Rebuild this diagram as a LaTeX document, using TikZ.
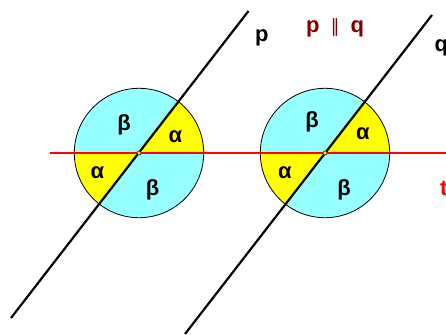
\documentclass[tikz,border=0pt]{standalone}
\usepackage{fontspec}
\setmainfont{Liberation Sans}
\newfontfamily\symfont{DejaVu Sans}
\definecolor{cyanfill}{RGB}{150,255,255}
\definecolor{yel}{RGB}{255,255,0}
\definecolor{darkred}{RGB}{128,0,0}
\begin{document}
\begin{tikzpicture}[x=1pt,y=-1pt,
  lbl/.style={font=\bfseries\fontsize{22}{22}\selectfont, inner sep=0pt},
  greek/.style={font=\bfseries\fontsize{22}{22}\selectfont, inner sep=0pt, anchor=center},
  lineblk/.style={draw=black, line width=2.2pt},
  linered/.style={draw=red, line width=2.5pt},
  dot/.style={circle, fill=yel, draw=black, line width=0.5pt, inner sep=0pt, minimum size=4pt}]
\useasboundingbox (0,0) rectangle (446,334);
\def\R{64.7}
\def\ang{52.2}
% centres
\coordinate (O1) at (139,153);
\coordinate (O2) at (325,153);
% line end points
\coordinate (p1) at (11,318);
\coordinate (p2) at (248.5,11);
\coordinate (q1) at (185,334);
\coordinate (q2) at (432,15);
\coordinate (t1) at (50,153);
\coordinate (t2) at (446,153);
% circles with wedges
\foreach \O in {O1,O2}{
  \fill[cyanfill] (\O) circle[radius=\R];
  \fill[yel] (\O) -- ++(0:\R) arc[start angle=0, end angle=-\ang, radius=\R] -- cycle;
  \fill[yel] (\O) -- ++(180:\R) arc[start angle=180, end angle=180-\ang, radius=\R] -- cycle;
  \draw[black, line width=0.8pt] (\O) circle[radius=\R];
}
% lines
\draw[lineblk] (p1) -- (p2);
\draw[lineblk] (q1) -- (q2);
\draw[linered] (t1) -- (t2);
\node[dot] (d1) at (O1) {};
\node[dot] (d2) at (O2) {};
% greek labels
\node[greek] (b11) at (124,124.5) {β};
\node[greek] (a11) at (175.5,137) {α};
\node[greek] (a12) at (97.5,173) {α};
\node[greek] (b12) at (152.5,190) {β};
\node[greek] (b21) at (312,121.5) {β};
\node[greek] (a21) at (363,134) {α};
\node[greek] (a22) at (285,173) {α};
\node[greek] (b22) at (344,189.5) {β};
% line labels
\node[lbl, anchor=base west] (lp) at (255,41.5) {p};
\node[lbl, anchor=base west] (lq) at (434.5,51.5) {q};
\node[lbl, anchor=base west, text=red] (lt) at (440,195) {t};
\node[lbl, anchor=base west, text=darkred] (par) at (306,33) {p\hspace{0.5em}{\symfont\mdseries\fontsize{18}{18}\selectfont ∥}\hspace{0.5em}q};
\end{tikzpicture}
\end{document}
